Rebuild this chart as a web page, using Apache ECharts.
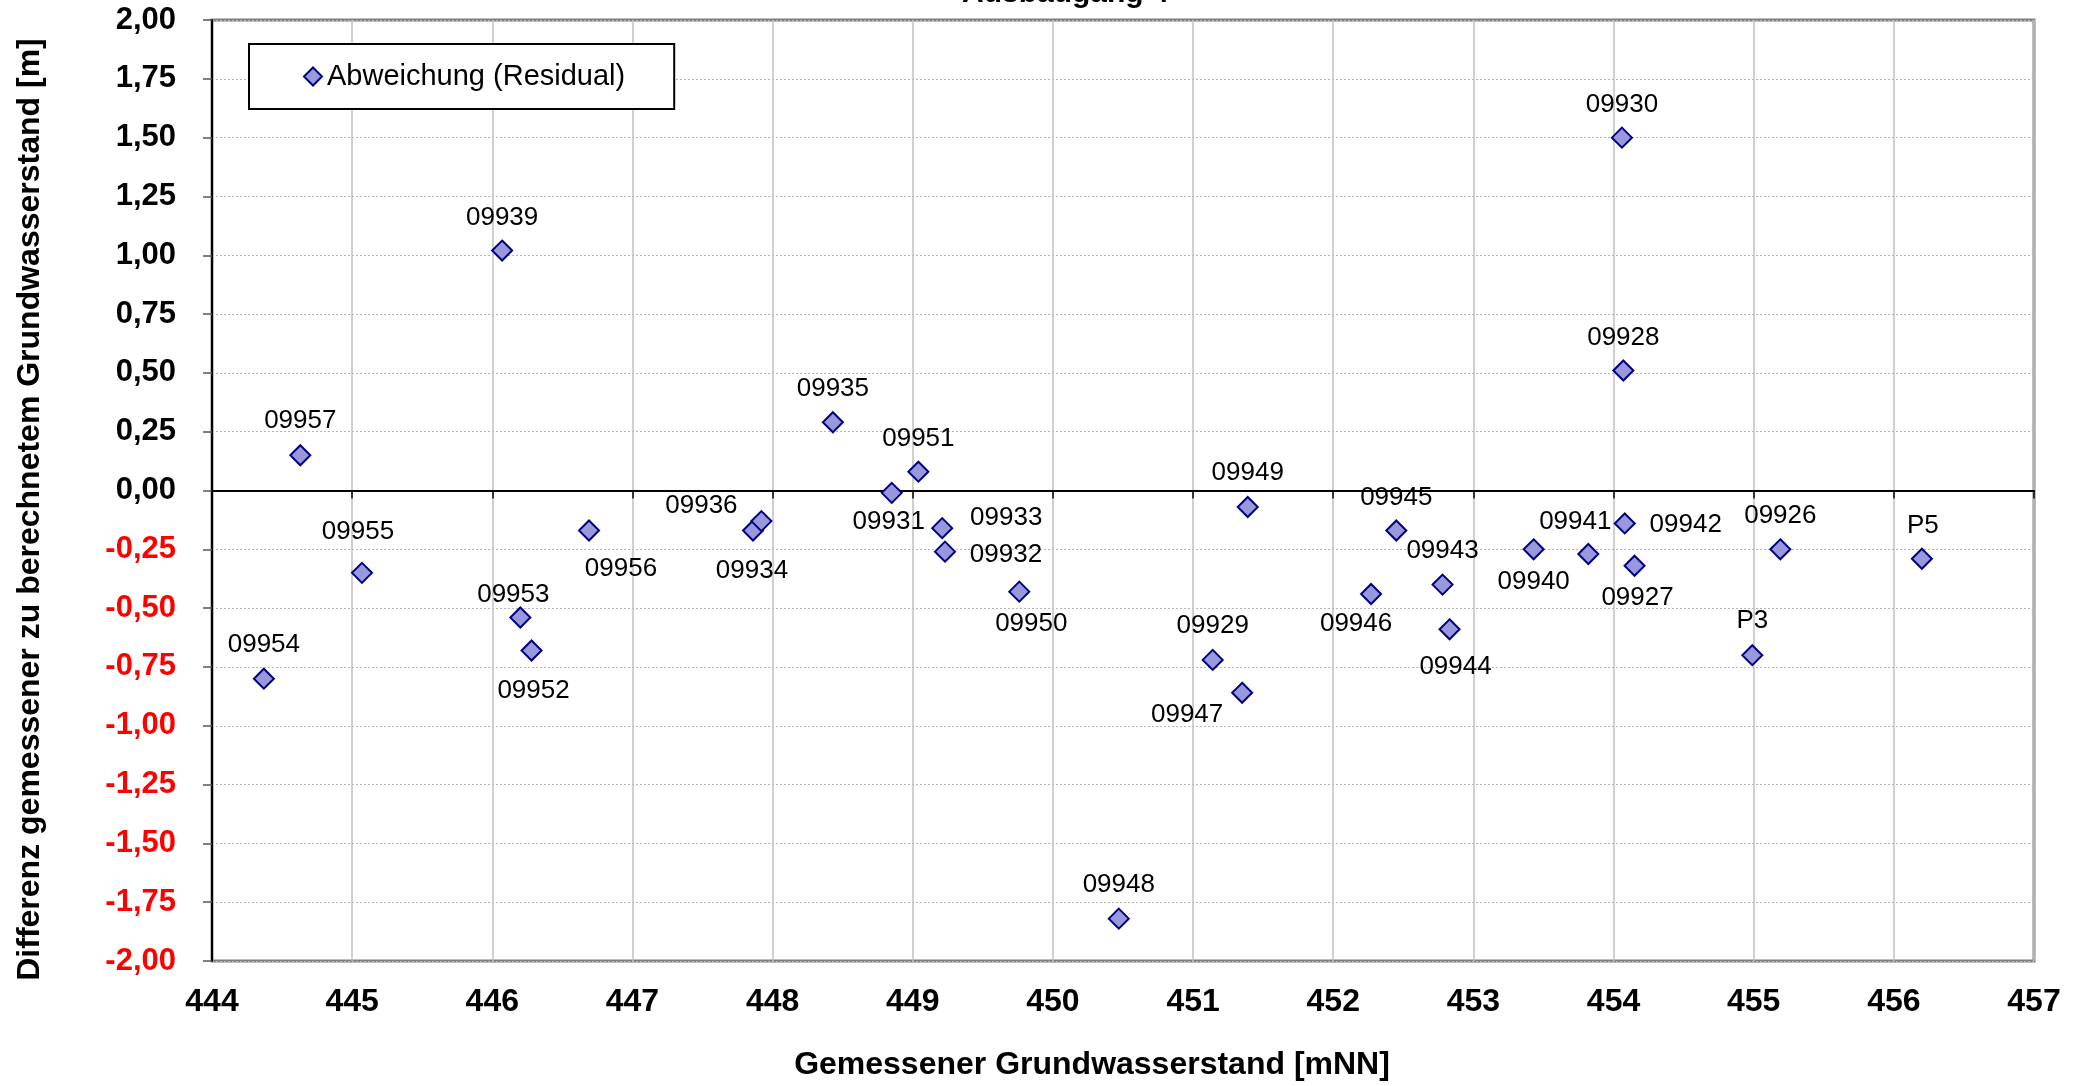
<!DOCTYPE html>
<html>
<head>
<meta charset="utf-8">
<script src="https://cdn.jsdelivr.net/npm/echarts@6/dist/echarts.min.js"></script>
<style>
html,body{margin:0;padding:0;background:#fff;}
#chart{width:2078px;height:1086px;}
</style>
</head>
<body>
<div id="chart"></div>
<script>
// ---- data ----
var pointNames = ['09954','09957','09955','09939','09953','09952','09956','09934','09936','09935','09931','09951','09933','09932','09950','09948','09929','09947','09949','09946','09945','09943','09944','09940','09941','09930','09928','09942','09927','P3','09926','P5'];
var measuredLevel = [444.37,444.63,445.07,446.07,446.20,446.28,446.69,447.86,447.92,448.43,448.85,449.04,449.21,449.23,449.76,450.47,451.14,451.35,451.39,452.27,452.45,452.78,452.83,453.43,453.82,454.06,454.07,454.08,454.15,454.99,455.19,456.20];
var residual = [-0.80,0.15,-0.35,1.02,-0.54,-0.68,-0.17,-0.17,-0.13,0.29,-0.01,0.08,-0.16,-0.26,-0.43,-1.82,-0.72,-0.86,-0.07,-0.44,-0.17,-0.40,-0.59,-0.25,-0.27,1.50,0.51,-0.14,-0.32,-0.70,-0.25,-0.29];
var xTicks = {min:444, max:457, step:1};
var yTicks = {min:-2, max:2, step:0.25};
var seriesName = 'Abweichung (Residual)';
var xTitle = 'Gemessener Grundwasserstand [mNN]';
var yTitle = 'Differenz gemessener zu berechnetem Grundwasserstand [m]';
var chartTitle = 'Ausbaugang 4';

// label placement (pixel offsets of each name relative to its marker)
var labelOffsets = {
 '09954':[0,-34],'09957':[0,-34],'09955':[-4,-41],'09939':[0,-33],'09953':[-7,-23],'09952':[2,40],
 '09956':[32,38],'09934':[-1,40],'09936':[-60,-15],'09935':[0,-33],'09931':[-3,29],'09951':[0,-33],
 '09933':[64,-10],'09932':[61,3],'09950':[12,32],'09948':[0,-34],'09929':[0,-34],'09947':[-55,22],
 '09949':[0,-34],'09946':[-15,30],'09945':[0,-33],'09943':[0,-34],'09944':[6,38],'09940':[0,33],
 '09941':[-13,-32],'09930':[0,-33],'09928':[0,-33],'09942':[61,1],'09927':[3,32],'P3':[0,-34],
 '09926':[0,-33],'P5':[1,-33]
};

var FONT = '"Liberation Sans", Arial, Helvetica, sans-serif';

var points = pointNames.map(function(n,i){
  return {name:n, value:[measuredLevel[i], residual[i]]};
});

var chart = echarts.init(document.getElementById('chart'), null, {renderer:'canvas'});
chart.setOption({
  animation:false,
  backgroundColor:'#ffffff',
  textStyle:{fontFamily:FONT},
  title:{
    text:chartTitle, left:957, top:-26,
    textStyle:{fontFamily:FONT, fontSize:30, fontWeight:'bold', color:'#000'}
  },
  grid:{left:212, right:44, top:20, bottom:120, show:true, borderColor:'#808080', borderWidth:3, backgroundColor:'#ffffff'},
  legend:{
    left:249, top:44, orient:'horizontal',
    padding:[18,49,18,54],
    backgroundColor:'#ffffff', borderColor:'#000000', borderWidth:2,
    itemWidth:18, itemHeight:18, itemGap:5,
    icon:'diamond',
    data:[seriesName],
    textStyle:{fontFamily:FONT, fontSize:29, color:'#000'}
  },
  xAxis:[{
    type:'value', position:'bottom', min:xTicks.min, max:xTicks.max, interval:xTicks.step,
    axisLine:{show:false, onZero:false},
    axisTick:{show:false},
    splitLine:{show:true, lineStyle:{color:'#c0c0c0', width:1.5, type:'solid'}},
    axisLabel:{show:true, margin:25, fontFamily:FONT, fontSize:32, fontWeight:'bold', color:'#000'},
    name:xTitle, nameLocation:'middle', nameGap:88,
    nameTextStyle:{fontFamily:FONT, fontSize:32, fontWeight:'bold', color:'#000', padding:[0,62,0,0]}
  },{
    type:'value', position:'bottom', min:xTicks.min, max:xTicks.max, interval:xTicks.step,
    axisLine:{show:true, onZero:true, lineStyle:{color:'#000', width:2}},
    axisTick:{show:true, inside:false, length:8, lineStyle:{color:'#000', width:1.5}},
    axisLabel:{show:false},
    splitLine:{show:false}
  }],
  yAxis:{
    type:'value', min:yTicks.min, max:yTicks.max, interval:yTicks.step,
    axisLine:{show:true, onZero:false, lineStyle:{color:'#000', width:2}},
    axisTick:{show:true, inside:false, length:9, lineStyle:{color:'#555', width:1.5}},
    splitLine:{show:true, lineStyle:{color:'#b5b5b5', width:1, type:[2,2]}},
    axisLabel:{
      margin:36, fontFamily:FONT, fontSize:31, fontWeight:'bold',
      formatter:function(v){ return v.toFixed(2).replace('.', ','); },
      color:function(v){ return Number(v) < 0 ? '#ff0000' : '#000000'; }
    },
    name:yTitle, nameLocation:'middle', nameGap:166,
    nameTextStyle:{fontFamily:FONT, fontSize:32, fontWeight:'bold', color:'#000', padding:[0,38,0,0]}
  },
  series:[{
    name:seriesName, type:'scatter', xAxisIndex:0, yAxisIndex:0,
    symbol:'diamond', symbolSize:20,
    itemStyle:{color:'#9898dc', borderColor:'#000080', borderWidth:2, opacity:1},
    label:{
      show:true, position:'inside', formatter:'{b}',
      fontFamily:FONT, fontSize:26, color:'#000', align:'center', verticalAlign:'middle'
    },
    labelLayout:function(params){
      var o = labelOffsets[pointNames[params.dataIndex]] || [0,-35];
      return {dx:o[0], dy:o[1], hideOverlap:false};
    },
    emphasis:{disabled:true},
    data:points
  }]
});
</script>
</body>
</html>
